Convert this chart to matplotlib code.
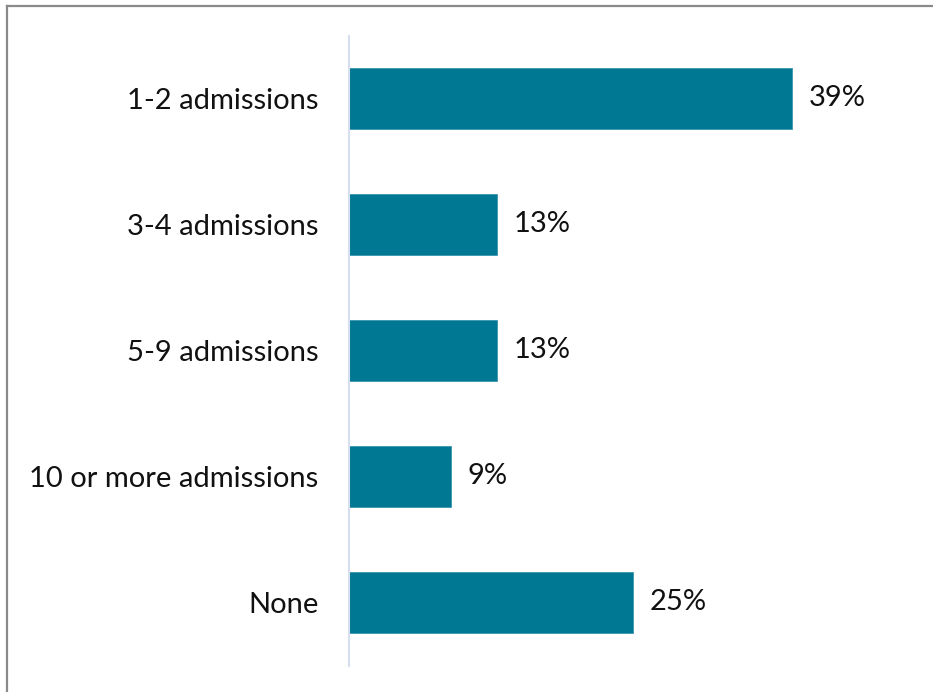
import matplotlib
matplotlib.use("Agg")
import matplotlib.pyplot as plt
from matplotlib.lines import Line2D

categories = ["1-2 admissions", "3-4 admissions", "5-9 admissions", "10 or more admissions", "None"]
values = [39, 13, 13, 9, 25]
value_labels = ["39%", "13%", "13%", "9%", "25%"]

plt.rcParams["font.family"] = ["Lato", "DejaVu Sans"]

W, H = 933, 692
fig = plt.figure(figsize=(W / 100, H / 100), dpi=100)
fig.patch.set_facecolor("white")

ax = fig.add_axes([349 / W, 26.5 / H, 567.5 / W, 630 / H])
ypos = list(range(len(categories)))
ax.barh(ypos, values, height=0.49, color="#007894", edgecolor="#3a95ad", linewidth=0.6)
ax.set_xlim(0, 50)
ax.set_ylim(-0.5, len(categories) - 0.5)
ax.invert_yaxis()

ax.set_yticks(ypos)
ax.set_yticklabels(categories, fontsize=21, color="#111111")
ax.tick_params(axis="y", length=0, pad=22)
ax.set_xticks([])
for side in ("top", "right", "bottom"):
    ax.spines[side].set_visible(False)
ax.spines["left"].set_color("#d6dff0")
ax.spines["left"].set_linewidth(1.5)

for y, v, lab in zip(ypos, values, value_labels):
    ax.annotate(lab, xy=(v, y), xytext=(12, 0), textcoords="offset points",
                va="center", ha="left", fontsize=21, color="#111111")

# outer frame (left and top edges)
fig.add_artist(Line2D([7 / W, 7 / W], [0, 1 - 6 / H], transform=fig.transFigure,
                      color="#8a8a8a", linewidth=1.6))
fig.add_artist(Line2D([7 / W, 1], [1 - 6 / H, 1 - 6 / H], transform=fig.transFigure,
                      color="#8a8a8a", linewidth=1.6))

fig.savefig("out.png", dpi=100, facecolor="white")
